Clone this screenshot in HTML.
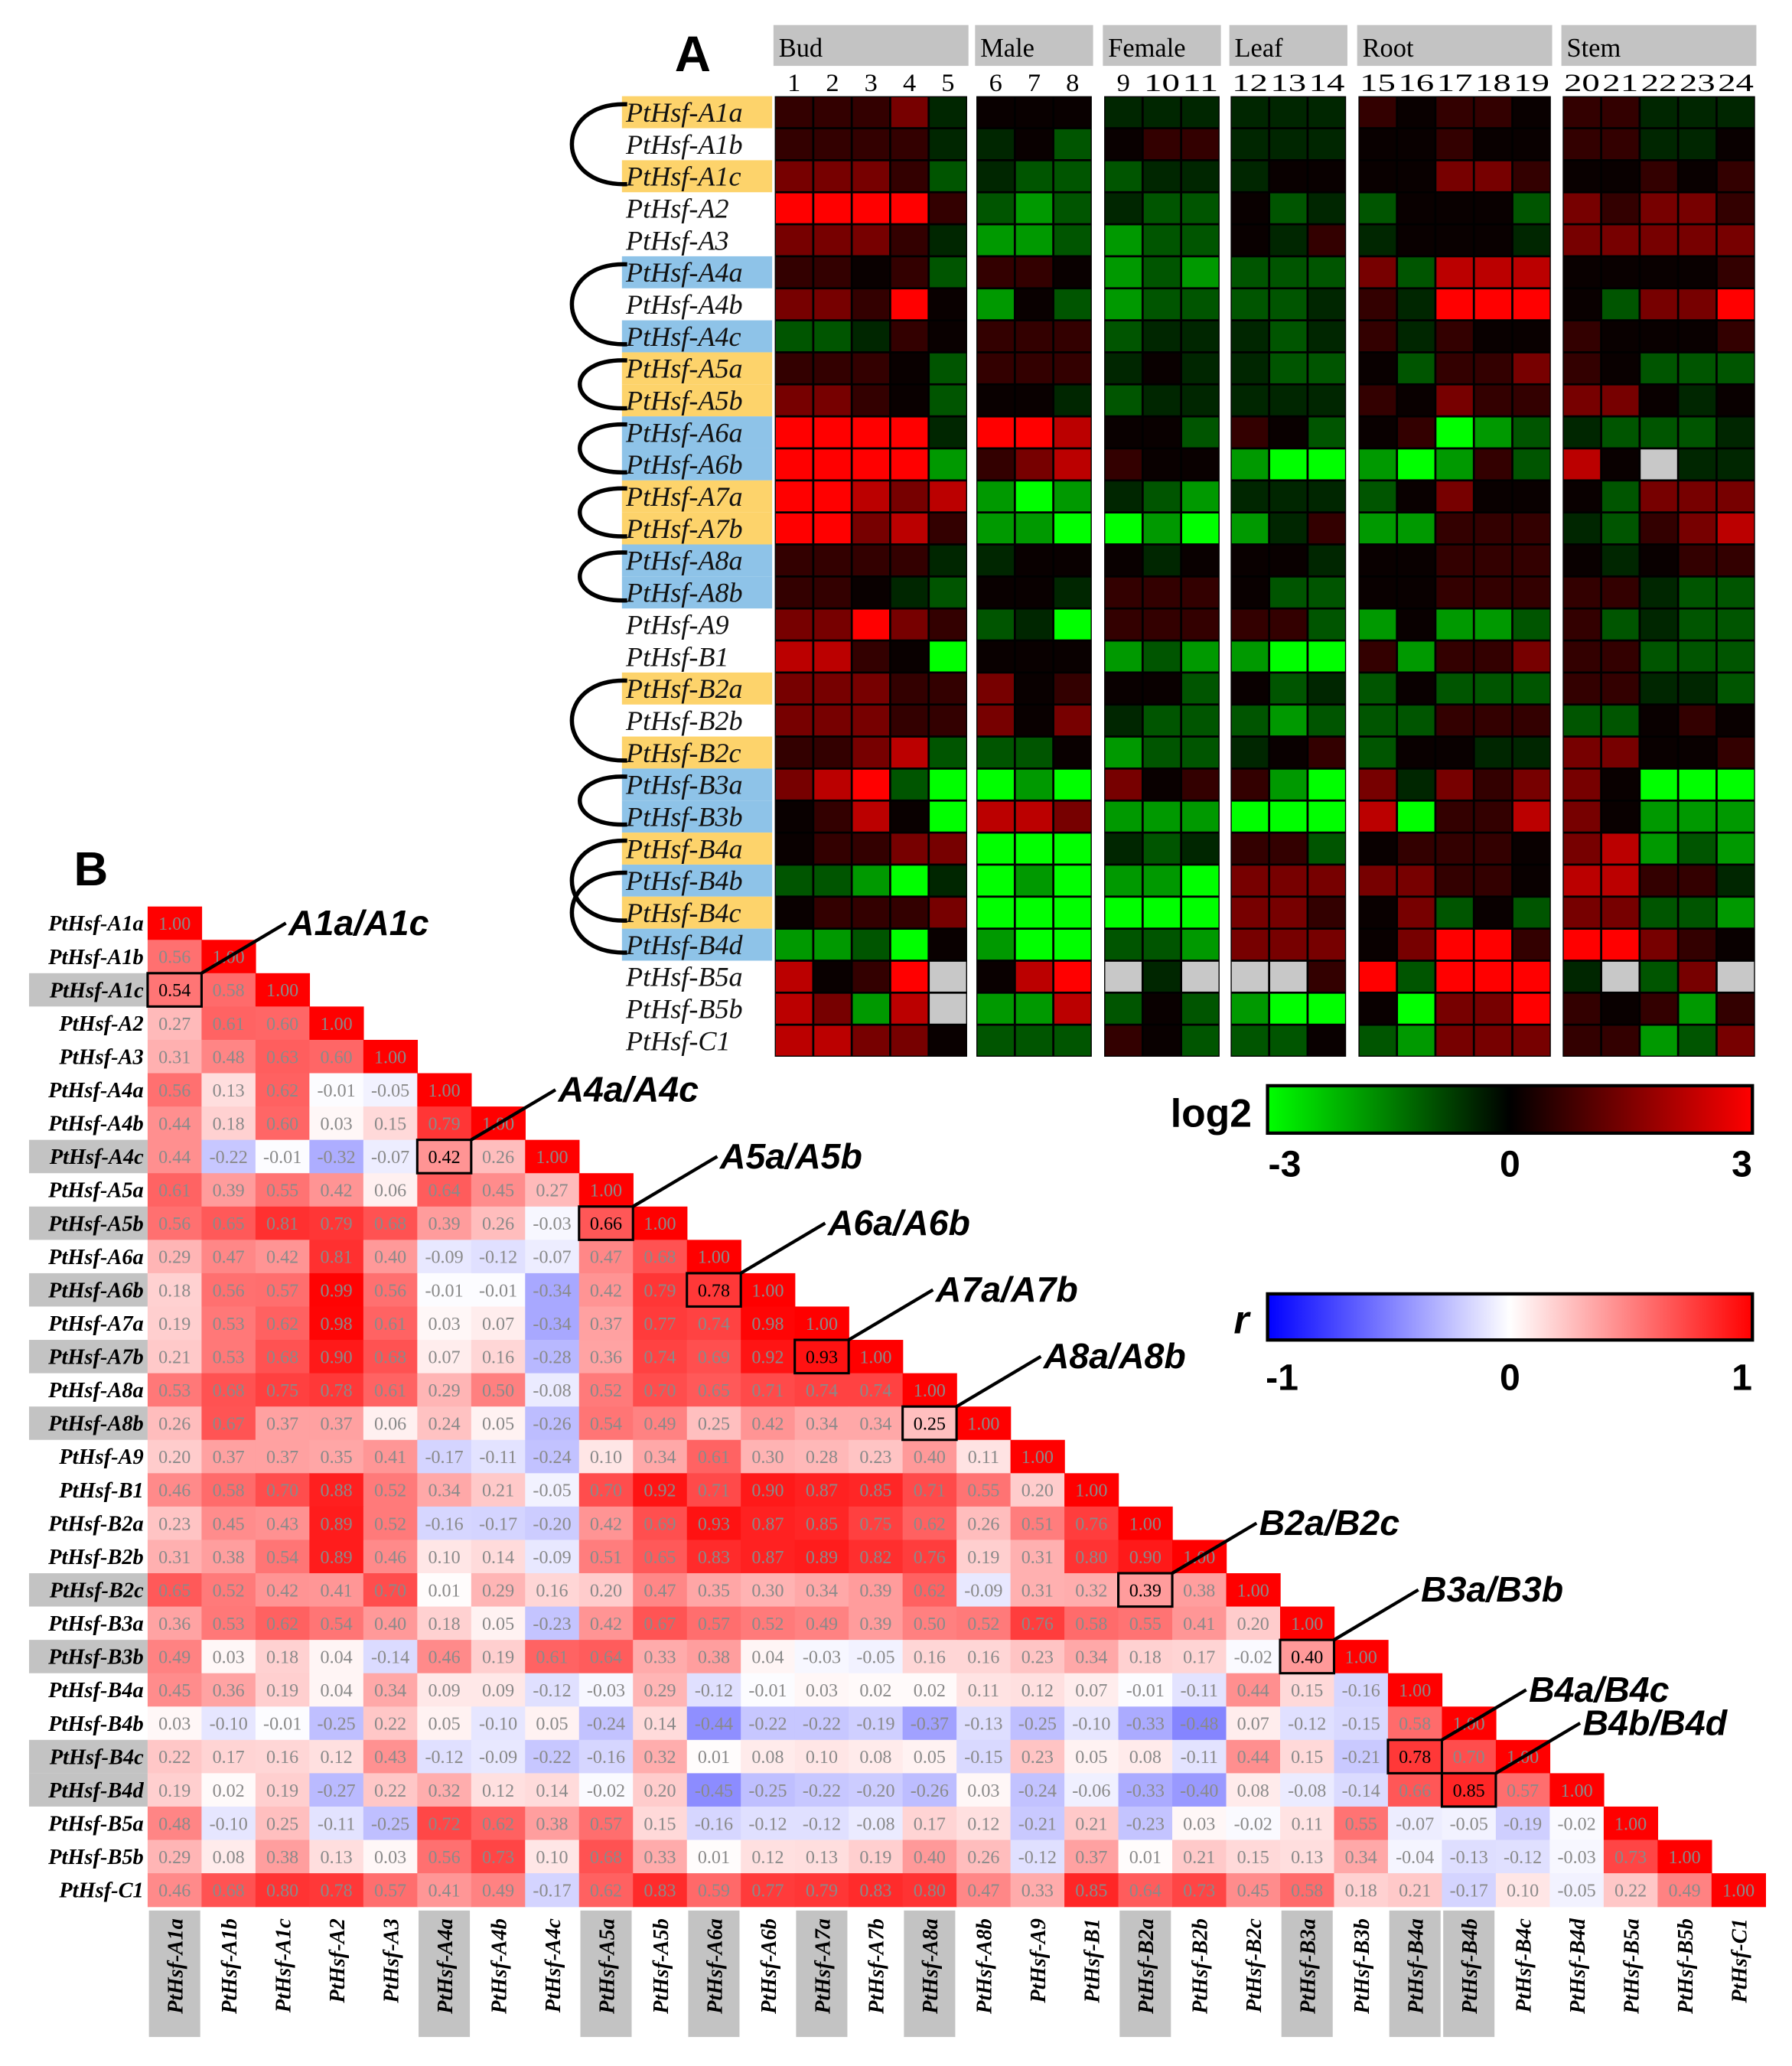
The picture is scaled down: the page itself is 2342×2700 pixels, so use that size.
<!DOCTYPE html>
<html><head><meta charset="utf-8">
<style>
html,body{margin:0;padding:0;background:#fff;}
svg{display:block;}
.ser{font-family:"Liberation Serif",serif;}
.sans{font-family:"Liberation Sans",sans-serif;}
</style></head>
<body>
<svg id="s" xmlns="http://www.w3.org/2000/svg" width="2342" height="2700" viewBox="0 0 1360 1568">
<defs>
<linearGradient id="gl" x1="0" x2="1" y1="0" y2="0">
<stop offset="0" stop-color="#00ff00"/><stop offset="0.5" stop-color="#000"/><stop offset="1" stop-color="#ff0000"/></linearGradient>
<linearGradient id="gr" x1="0" x2="1" y1="0" y2="0">
<stop offset="0" stop-color="#0000ff"/><stop offset="0.5" stop-color="#fff"/><stop offset="1" stop-color="#ff0000"/></linearGradient>
</defs>
<g id="root"></g>
</svg>
<script>
var root=document.getElementById("root");
var out=[];
var genes=["A1a","A1b","A1c","A2","A3","A4a","A4b","A4c","A5a","A5b","A6a","A6b","A7a","A7b","A8a","A8b","A9","B1","B2a","B2b","B2c","B3a","B3b","B4a","B4b","B4c","B4d","B5a","B5b","C1"];
var yellow=["A1a","A1c","A5a","A5b","A7a","A7b","B2a","B2c","B4a","B4c"];
var blue=["A4a","A4c","A6a","A6b","A8a","A8b","B3a","B3b","B4b","B4d"];
var rowsFixed=[
"eeedh"+"kkk"+"hhh"+"hhh"+"ekeek"+"eehhh",
"eeeeh"+"hkg"+"kee"+"hhh"+"kkekk"+"eehhk",
"dddeg"+"hgg"+"ghh"+"hkk"+"kkdde"+"kkeke",
"RRRRe"+"gGg"+"hgg"+"kgh"+"gkkkg"+"dedde",
"dddeh"+"GGg"+"Ggg"+"khe"+"hkkkh"+"ddddd",
"eekeg"+"eek"+"GgG"+"ggg"+"dgrrr"+"kkkke",
"ddeRk"+"Gkg"+"Ggg"+"ggh"+"ehRRR"+"kgddR",
"gghek"+"eee"+"ghh"+"hgh"+"ehekk"+"ekkke",
"eeekg"+"eee"+"hkh"+"hgg"+"kgeed"+"ekggg",
"ddekg"+"kkh"+"ghh"+"hhh"+"ekdee"+"ddkhk",
"RRRRh"+"RRr"+"kkg"+"ekg"+"keLGg"+"hgggh",
"RRRRG"+"edr"+"ekk"+"GLL"+"GLGeg"+"rkxhh",
"RRrdr"+"GLG"+"hgG"+"hhh"+"gkdkk"+"kgddd",
"RRdre"+"GGL"+"LGL"+"Ghe"+"GGeee"+"hgedr",
"eeeeh"+"hkk"+"khk"+"kkh"+"kkeee"+"khkee",
"eekhg"+"kkh"+"eee"+"kgg"+"kkeee"+"eehgg",
"ddRde"+"ghL"+"eee"+"eeg"+"GkGGg"+"eghgg",
"rrekL"+"kkk"+"GgG"+"GLL"+"eGeed"+"eeggg",
"dddee"+"dke"+"kkg"+"kgh"+"gkggg"+"eehhg",
"dddee"+"dkd"+"hgg"+"gGg"+"ggeee"+"ggkek",
"eedrg"+"ggk"+"Ggg"+"hke"+"gkkhh"+"ddkke",
"drRgL"+"LGL"+"dke"+"eGL"+"dhded"+"dkLLL",
"kerkL"+"rrd"+"GGG"+"LLL"+"rLeer"+"dkGGG",
"keedd"+"LLL"+"hgh"+"eeg"+"keeek"+"drGgG",
"ggGLh"+"LGL"+"GGL"+"ddd"+"ddeek"+"rreeh",
"keeed"+"LLL"+"LLL"+"dde"+"kdgkg"+"ddggG",
"GGgLk"+"GLL"+"ggG"+"ddd"+"kdRRe"+"RRdek",
"rkeRx"+"krR"+"xhx"+"xxe"+"RgRRR"+"hxgdx",
"rdGrx"+"GGr"+"gkg"+"GLL"+"kLddR"+"ekeGe",
"rrddk"+"ggg"+"ekg"+"ggk"+"gGddd"+"eeGgd"];
var cmap={R:3,r:2.2,d:1.4,e:0.6,k:0.1,h:-0.45,g:-1.0,G:-1.8,L:-3};
function hcol(c){if(c=="x")return "#c8c8c8";var v=cmap[c];if(v==null)v=0;
 if(v>=0)return "rgb("+Math.round(255*v/3)+",0,0)";return "rgb(0,"+Math.round(255*-v/3)+",0)";}
var gx=[588,741,838,934,1031,1186], gn=[5,3,3,3,5,5], gname=["Bud","Male","Female","Leaf","Root","Stem"];
var cw=29.2, y0=73, rh=24.3;
var col=0;
for(var g=0;g<6;g++){
  out.push('<rect x="'+(gx[g]-1)+'" y="19" width="'+(gn[g]*cw+2)+'" height="31" fill="#c3c3c3"/>');
  out.push('<text class="ser" x="'+(gx[g]+3)+'" y="43" font-size="20">'+gname[g]+'</text>');
  out.push('<rect x="'+gx[g]+'" y="'+y0+'" width="'+(gn[g]*cw)+'" height="'+(30*rh)+'" fill="#000"/>');
  for(var c=0;c<gn[g];c++){
    col++;
    var cx=gx[g]+c*cw;
    out.push('<text class="ser" x="'+(cx+cw/2)+'" y="69" font-size="19" text-anchor="middle" textLength="'+(col>9?cw-2:10)+'" lengthAdjust="spacingAndGlyphs">'+col+'</text>');
    for(var r=0;r<30;r++){
      var ch=rowsFixed[r][col-1]||"k";
      out.push('<rect x="'+(cx+0.8)+'" y="'+(y0+r*rh+0.8)+'" width="'+(cw-1.6)+'" height="'+(rh-1.6)+'" fill="'+hcol(ch)+'"/>');
    }
  }
}
out.push('<text class="sans" x="512" y="54" font-size="38" font-weight="bold">A</text>');
for(var r=0;r<30;r++){
  var gname2=genes[r], yy=y0+r*rh;
  var bg=yellow.indexOf(gname2)>=0?"#fdd36b":(blue.indexOf(gname2)>=0?"#8ec3e8":null);
  if(bg)out.push('<rect x="472" y="'+yy+'" width="114" height="'+rh+'" fill="'+bg+'"/>');
  out.push('<text class="ser" x="475" y="'+(yy+rh-5)+'" font-size="21" font-style="italic" fill="#111">PtHsf-'+gname2+'</text>');
}
var pairs=[["A1a","A1c"],["A4a","A4c"],["A5a","A5b"],["A6a","A6b"],["A7a","A7b"],["A8a","A8b"],["B2a","B2c"],["B3a","B3b"],["B4a","B4c"],["B4b","B4d"]];
pairs.forEach(function(p){
  var a=genes.indexOf(p[0]),b=genes.indexOf(p[1]);
  var ya=y0+a*rh+rh/2-6, yb=y0+b*rh+rh/2+6;
  var span=yb-ya, cx=span>40?420:428;
  out.push('<path d="M476,'+ya+' C'+cx+','+(ya-2)+' '+cx+','+(yb+2)+' 476,'+yb+'" fill="none" stroke="#000" stroke-width="3.2"/>');
});
out.push('<rect x="962" y="824" width="368" height="36" fill="url(#gl)" stroke="#000" stroke-width="2.5"/>');
out.push('<text class="sans" x="950" y="855" font-size="30" font-weight="bold" text-anchor="end">log2</text>');
out.push('<text class="sans" x="975" y="893" font-size="28" font-weight="bold" text-anchor="middle">-3</text>');
out.push('<text class="sans" x="1146" y="893" font-size="28" font-weight="bold" text-anchor="middle">0</text>');
out.push('<text class="sans" x="1322" y="893" font-size="28" font-weight="bold" text-anchor="middle">3</text>');
out.push('<rect x="962" y="982" width="368" height="35" fill="url(#gr)" stroke="#000" stroke-width="2.5"/>');
out.push('<text class="sans" x="948" y="1012" font-size="30" font-weight="bold" font-style="italic" text-anchor="end">r</text>');
out.push('<text class="sans" x="973" y="1055" font-size="28" font-weight="bold" text-anchor="middle">-1</text>');
out.push('<text class="sans" x="1146" y="1055" font-size="28" font-weight="bold" text-anchor="middle">0</text>');
out.push('<text class="sans" x="1322" y="1055" font-size="28" font-weight="bold" text-anchor="middle">1</text>');
var M=[
[1],
[.56,1],
[.54,.58,1],
[.27,.61,.60,1],
[.31,.48,.63,.60,1],
[.56,.13,.62,-.01,-.05,1],
[.44,.18,.60,.03,.15,.79,1],
[.44,-.22,-.01,-.32,-.07,.42,.26,1],
[.61,.39,.55,.42,.06,.64,.45,.27,1],
[.56,.65,.81,.79,.68,.39,.26,-.03,.66,1],
[.29,.47,.42,.81,.40,-.09,-.12,-.07,.47,.68,1],
[.18,.56,.57,.99,.56,-.01,-.01,-.34,.42,.79,.78,1],
[.19,.53,.62,.98,.61,.03,.07,-.34,.37,.77,.74,.98,1],
[.21,.53,.68,.90,.68,.07,.16,-.28,.36,.74,.69,.92,.93,1],
[.53,.68,.75,.78,.61,.29,.50,-.08,.52,.70,.65,.71,.74,.74,1],
[.26,.67,.37,.37,.06,.24,.05,-.26,.54,.49,.25,.42,.34,.34,.25,1],
[.20,.37,.37,.35,.41,-.17,-.11,-.24,.10,.34,.61,.30,.28,.23,.40,.11,1],
[.46,.58,.70,.88,.52,.34,.21,-.05,.70,.92,.71,.90,.87,.85,.71,.55,.20,1],
[.23,.45,.43,.89,.52,-.16,-.17,-.20,.42,.69,.93,.87,.85,.75,.62,.26,.51,.76,1],
[.31,.38,.54,.89,.46,.10,.14,-.09,.51,.65,.83,.87,.89,.82,.76,.19,.31,.80,.90,1],
[.65,.52,.42,.41,.70,.01,.29,.16,.20,.47,.35,.30,.34,.39,.62,-.09,.31,.32,.39,.38,1],
[.36,.53,.62,.54,.40,.18,.05,-.23,.42,.67,.57,.52,.49,.39,.50,.52,.76,.58,.55,.41,.20,1],
[.49,.03,.18,.04,-.14,.46,.19,.61,.64,.33,.38,.04,-.03,-.05,.16,.16,.23,.34,.18,.17,-.02,.40,1],
[.45,.36,.19,.04,.34,.09,.09,-.12,-.03,.29,-.12,-.01,.03,.02,.02,.11,.12,.07,-.01,-.11,.44,.15,-.16,1],
[.03,-.10,-.01,-.25,.22,.05,-.10,.05,-.24,.14,-.44,-.22,-.22,-.19,-.37,-.13,-.25,-.10,-.33,-.48,.07,-.12,-.15,.58,1],
[.22,.17,.16,.12,.43,-.12,-.09,-.22,-.16,.32,.01,.08,.10,.08,.05,-.15,.23,.05,.08,-.11,.44,.15,-.21,.78,.70,1],
[.19,.02,.19,-.27,.22,.32,.12,.14,-.02,.20,-.45,-.25,-.22,-.20,-.26,.03,-.24,-.06,-.33,-.40,.08,-.08,-.14,.66,.85,.57,1],
[.48,-.10,.25,-.11,-.25,.72,.62,.38,.57,.15,-.16,-.12,-.12,-.08,.17,.12,-.21,.21,-.23,.03,-.02,.11,.55,-.07,-.05,-.19,-.02,1],
[.29,.08,.38,.13,.03,.56,.73,.10,.68,.33,.01,.12,.13,.19,.40,.26,-.12,.37,.01,.21,.15,.13,.34,-.04,-.13,-.12,-.03,.73,1],
[.46,.68,.80,.78,.57,.41,.49,-.17,.62,.83,.59,.77,.79,.83,.80,.47,.33,.85,.64,.73,.45,.58,.18,.21,-.17,.10,-.05,.22,.49,1]];
var bx=112, by=688, bw=40.93, bh=25.3;
function rcol(v){if(v>=0){var t=Math.round(255*(1-v));return "rgb(255,"+t+","+t+")";}var t=Math.round(255*(1+v));return "rgb("+t+","+t+",255)";}
var grayRows=["A1c","A4c","A5b","A6b","A7b","A8b","B2c","B3b","B4c","B4d"];
var grayCols=["A1a","A4a","A5a","A6a","A7a","A8a","B2a","B3a","B4a","B4b"];
var boxes={};
pairs.forEach(function(p){boxes[genes.indexOf(p[1])+"_"+genes.indexOf(p[0])]=1;});
out.push('<text class="sans" x="56" y="672" font-size="36" font-weight="bold">B</text>');
for(var r=0;r<30;r++){
  var yy=by+r*bh;
  if(grayRows.indexOf(genes[r])>=0)out.push('<rect x="22" y="'+yy+'" width="90" height="'+bh+'" fill="#c3c3c3"/>');
  out.push('<text class="ser" x="109" y="'+(yy+bh-7)+'" font-size="16.5" font-weight="bold" font-style="italic" text-anchor="end">PtHsf-'+genes[r]+'</text>');
  for(var c=0;c<=r;c++){
    var v=M[r][c], xx=bx+c*bw;
    out.push('<rect x="'+xx.toFixed(2)+'" y="'+yy.toFixed(2)+'" width="'+(bw+0.4).toFixed(2)+'" height="'+(bh+0.4)+'" fill="'+rcol(v)+'"/>');
    var bxd=boxes[r+"_"+c];
    out.push('<text class="ser" x="'+(xx+bw/2).toFixed(2)+'" y="'+(yy+bh/2+5)+'" font-size="14" text-anchor="middle" fill="'+(bxd?"#000":"#8a8a8a")+'">'+v.toFixed(2)+'</text>');
  }
}
pairs.forEach(function(p){
  var ci=genes.indexOf(p[0]), ri=genes.indexOf(p[1]);
  var xx=bx+ci*bw, yy=by+ri*bh;
  out.push('<rect x="'+xx+'" y="'+yy+'" width="'+bw+'" height="'+bh+'" fill="none" stroke="#000" stroke-width="1.8"/>');
  var x2=xx+bw+64, y2=yy-38;
  out.push('<line x1="'+(xx+bw)+'" y1="'+yy+'" x2="'+x2+'" y2="'+y2+'" stroke="#000" stroke-width="2.5"/>');
  out.push('<text class="sans" x="'+(x2+2)+'" y="'+(y2+9)+'" font-size="27" font-weight="bold" font-style="italic">'+p[0]+'/'+p[1]+'</text>');
});
for(var c=0;c<30;c++){
  var xx=bx+c*bw;
  if(grayCols.indexOf(genes[c])>=0)out.push('<rect x="'+(xx+1)+'" y="1450" width="'+(bw-2)+'" height="96" fill="#c3c3c3"/>');
  var tx=xx+bw/2+6, ty=1456;
  out.push('<text class="ser" transform="translate('+tx.toFixed(2)+','+ty+') rotate(-90)" font-size="16.5" font-weight="bold" font-style="italic" text-anchor="end">PtHsf-'+genes[c]+'</text>');
}
root.innerHTML=out.join("");
</script>
</body></html>
